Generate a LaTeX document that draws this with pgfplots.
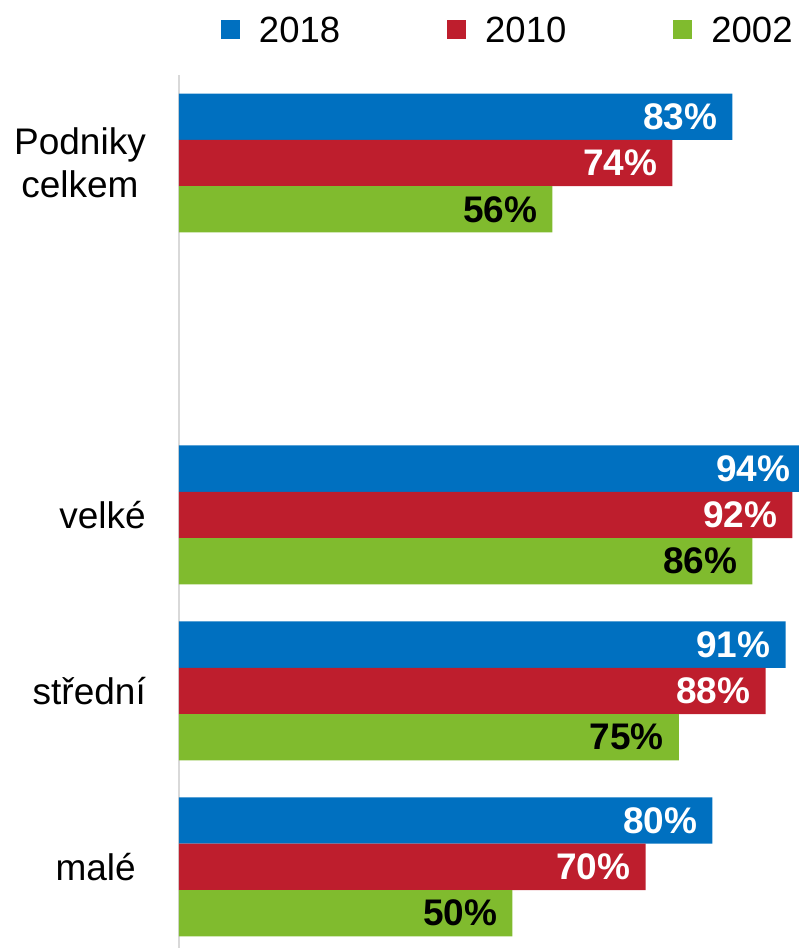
\documentclass[border=0pt]{standalone}
\usepackage{pgfplots}
\pgfplotsset{compat=1.18}
\usepackage{fontspec}
\setmainfont{Liberation Sans}
\definecolor{cblue}{RGB}{0,112,192}
\definecolor{cred}{RGB}{190,30,45}
\definecolor{cgreen}{RGB}{128,187,46}
\definecolor{cgrid}{RGB}{217,217,217}
\newcommand\bigfont{\fontsize{37bp}{43bp}\selectfont}
\begin{document}
\begin{tikzpicture}
\begin{axis}[
  at={(0,0)}, anchor=south west,
  scale only axis, width=633.33bp, height=873bp,
  xmin=0, xmax=95, ymin=-0.461, ymax=4.5,
  xbar, bar width=46.3bp,
  axis x line=none, axis y line*=left,
  y axis line style={cgrid, line width=2bp},
  ytick={0,1,2,4},
  yticklabels={malé\hspace{10bp}, střední, velké, Podniky\\celkem},
  ytick style={draw=none}, major tick length=0pt,
  yticklabel style={font=\bigfont, align=center, inner sep=0pt, xshift=-33bp},
  point meta=x,
  nodes near coords={\pgfmathprintnumber[assume math mode=true]{\pgfplotspointmeta}\%},
  nodes near coords style={anchor=east, inner sep=0pt, xshift=-15bp, font=\bigfont\bfseries},
  legend columns=3,
  legend image code/.code={\fill[#1] (0bp,-8.5bp) rectangle (19bp,10.5bp);},
  legend style={draw=none, fill=none, inner sep=0pt, outer sep=0pt,
    at={(0.0663,1.0515)}, anchor=west,
    nodes={inner sep=0pt, font=\fontsize{36.5bp}{43bp}\selectfont},
    /tikz/every odd column/.append style={column sep=19bp},
    /tikz/every even column/.append style={column sep=107bp}},
]
\addplot[fill=cblue, draw=none, bar shift=46.3bp, nodes near coords style={white}]
  coordinates {(80,0) (91,1) (94,2) (83,4)};
\addlegendentry{2018}
\addplot[fill=cred, draw=none, bar shift=0bp, nodes near coords style={white}]
  coordinates {(70,0) (88,1) (92,2) (74,4)};
\addlegendentry{2010}
\addplot[fill=cgreen, draw=none, bar shift=-46.3bp, nodes near coords style={black}]
  coordinates {(50,0) (75,1) (86,2) (56,4)};
\addlegendentry{2002}
\end{axis}
\pgfresetboundingbox
\useasboundingbox (-179bp,0bp) rectangle (620bp,948bp);
\end{tikzpicture}
\end{document}
